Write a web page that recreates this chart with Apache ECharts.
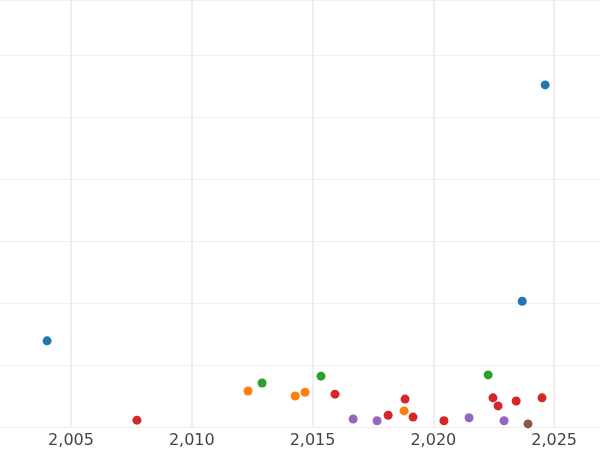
<!DOCTYPE html><html><head><meta charset="utf-8"><script src="https://cdn.jsdelivr.net/npm/echarts@6/dist/echarts.min.js"></script></head><body style="margin:0"><div id="c" style="width:600px;height:450px"></div><script>
const years=[2005,2010,2015,2020,2025];
const blue=[[2004.01,1.39],[2023.68,2.03],[2024.63,5.52]];
const red=[[2007.73,0.11],[2015.93,0.53],[2018.13,0.19],[2018.83,0.45],[2019.16,0.16],[2020.44,0.10],[2022.47,0.47],[2022.68,0.34],[2023.43,0.42],[2024.5,0.47]];
const orange=[[2012.33,0.58],[2014.28,0.50],[2014.69,0.56],[2018.79,0.26]];
const green=[[2012.91,0.71],[2015.35,0.82],[2022.27,0.84]];
const purple=[[2016.68,0.13],[2017.67,0.10],[2021.48,0.15],[2022.93,0.10]];
const brown=[[2023.92,0.05]];
const groups=[[blue,'#1f77b4'],[red,'#d62728'],[orange,'#ff7f0e'],[green,'#2ca02c'],[purple,'#9467bd'],[brown,'#8c564b']];
const ch=echarts.init(document.getElementById('c'));
ch.setOption({animation:false,grid:{left:0,right:0,top:0,bottom:23,containLabel:false},
xAxis:{type:'value',min:2002.06,max:2026.9,axisLine:{show:false},axisTick:{show:false,customValues:years},
axisLabel:{color:'#444',fontSize:16,fontFamily:'DejaVu Sans',margin:6,customValues:years},
splitLine:{lineStyle:{color:'#e8e8e8',width:1.5}}},
yAxis:{type:'value',min:0,max:6.89,interval:1,axisLine:{show:false},axisTick:{show:false},axisLabel:{show:false},splitLine:{lineStyle:{color:'#eeeeee'}}},
series:groups.map(([d,c])=>({type:'scatter',data:d,symbolSize:9,itemStyle:{color:c,opacity:1}}))});
</script></body></html>
